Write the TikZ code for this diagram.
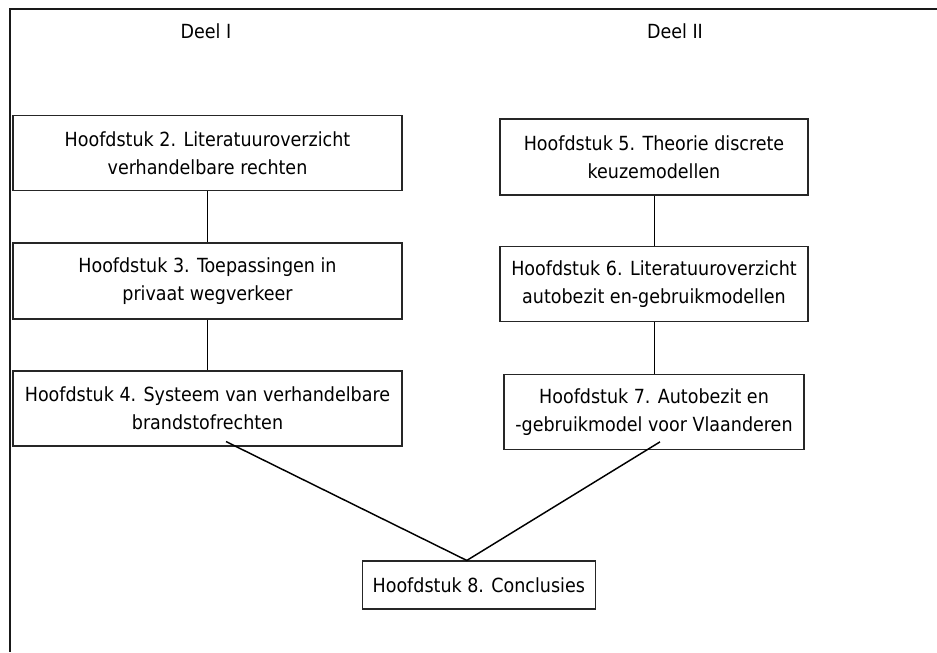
\documentclass[tikz,border=0pt]{standalone}
\usepackage{fontspec}
\setmainfont{DejaVu Sans Condensed}
\begin{document}
\begin{tikzpicture}[x=0.75pt,y=-0.75pt,
  chapter/.style={draw=black!85, line width=0.85pt, rectangle, align=center,
    inner sep=0pt, font=\fontsize{14.6}{21}\selectfont},
  partlabel/.style={font=\fontsize{14.6}{21}\selectfont},
  link/.style={draw=black, line width=0.75pt},
  merge/.style={draw=black, line width=1.1pt}]
  \useasboundingbox (0,0) rectangle (937,652);
  % outer frame (only top and left edges fall inside the page)
  \draw[line width=1.5pt, black!90] (937,9) -- (9.5,9) -- (9.5,652);

  % part headings
  \node[partlabel] (d1) at (206,31) {Deel I};
  \node[partlabel] (d2) at (675,31) {Deel II};

  % part I
  \node[chapter, minimum width=389*0.75pt, minimum height=75*0.75pt] (b2) at (207.5,153.2)
    {Hoofdstuk 2. Literatuuroverzicht\\verhandelbare rechten};
  \node[chapter, minimum width=389*0.75pt, minimum height=76*0.75pt] (b3) at (207.5,281)
    {Hoofdstuk 3. Toepassingen in\\privaat wegverkeer};
  \node[chapter, minimum width=389*0.75pt, minimum height=75*0.75pt] (b4) at (207.5,408.5)
    {Hoofdstuk 4. Systeem van verhandelbare\\brandstofrechten};

  % part II
  \node[chapter, minimum width=308*0.75pt, minimum height=76*0.75pt] (b5) at (654,157)
    {Hoofdstuk 5. Theorie discrete\\keuzemodellen};
  \node[chapter, minimum width=308*0.75pt, minimum height=75*0.75pt] (b6) at (654,284.3)
    {Hoofdstuk 6. Literatuuroverzicht\\autobezit en-gebruikmodellen};
  \node[chapter, minimum width=300*0.75pt, minimum height=75*0.75pt] (b7) at (654,411.8)
    {Hoofdstuk 7. Autobezit en\\-gebruikmodel voor Vlaanderen};

  % conclusion
  \node[chapter, minimum width=233*0.75pt, minimum height=48*0.75pt] (b8) at (478.8,585)
    {Hoofdstuk 8. Conclusies};

  % chains within each part
  \draw[link] (b2.south) -- (b3.north);
  \draw[link] (b3.south) -- (b4.north);
  \draw[link] (b5.south) -- (b6.north);
  \draw[link] (b6.south) -- (b7.north);

  % both parts lead to the conclusion
  \coordinate (s4) at ([xshift=13.9pt, yshift=3.75pt]b4.south);
  \coordinate (s7) at ([xshift=4.5pt, yshift=6pt]b7.south);
  \coordinate (m8) at ([xshift=-9pt]b8.north);
  \draw[merge] (s4) -- (m8) -- (s7);
\end{tikzpicture}
\end{document}
